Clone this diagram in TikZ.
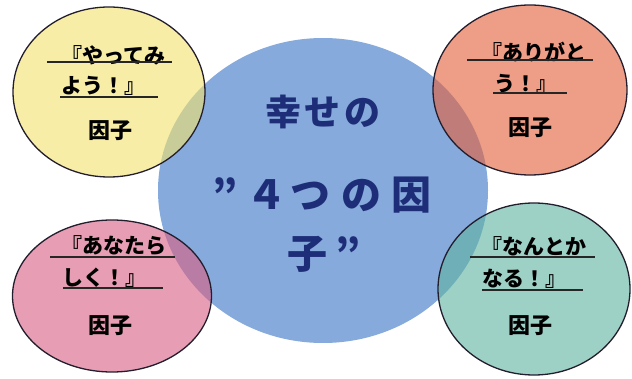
\documentclass[tikz,border=0pt]{standalone}
\usepackage{fontspec}
\newfontfamily\jp{Noto Sans CJK JP}
\usetikzlibrary{shapes.geometric}
\definecolor{cblue}{RGB}{134,170,220}
\definecolor{cyel}{RGB}{242,226,112}
\definecolor{corg}{RGB}{227,97,60}
\definecolor{cpnk}{RGB}{217,97,132}
\definecolor{ctea}{RGB}{97,180,163}
\definecolor{cnavy}{RGB}{30,45,120}
\definecolor{cedge}{RGB}{35,30,45}
\begin{document}
\begin{tikzpicture}[x=1pt,y=1pt,
  factor/.style={ellipse, draw=cedge, line width=1.3pt, fill opacity=0.62, draw opacity=1, inner sep=0pt},
  ftext/.style={font=\jp\bfseries\fontsize{21}{21}\selectfont, inner sep=0pt, anchor=west, text=black},
  fkey/.style={font=\jp\bfseries\fontsize{22}{22}\selectfont, inner sep=0pt, text=black},
  ctext/.style={font=\jp\bfseries\fontsize{36}{36}\selectfont, inner sep=0pt, text=cnavy},
  cbig/.style={font=\jp\bfseries\fontsize{40}{40}\selectfont, inner sep=0pt, text=cnavy},
  ul/.style={line width=1.3pt, draw=black!85}]
\useasboundingbox (0,0) rectangle (632,378);
% central circle
\node[ellipse, fill=cblue, minimum width=330pt, minimum height=305pt, inner sep=0pt] (core) at (323,187.5) {};
% factor circles
\node[factor, fill=cyel, minimum width=192pt, minimum height=170pt] (yel) at (109,286) {};
\node[factor, fill=corg, minimum width=194pt, minimum height=170pt] (org) at (530,288) {};
\node[factor, fill=cpnk, minimum width=199pt, minimum height=152pt] (pnk) at (112,82) {};
\node[factor, fill=ctea, minimum width=192pt, minimum height=172pt] (tea) at (534,89) {};
% central text
\node[ctext] (c1) at (323,266) {幸\hspace{4pt}せ\hspace{4pt}の};
\node[cbig] (c2) at (322,183) {”\hspace{9pt}４\hspace{4pt}つ\hspace{11pt}の\hspace{10pt}因};
\node[cbig] (c3) at (324,124) {子\hspace{8pt}”};
% yellow
\node[ftext] (y1) at (61,323) {『やってみ};
\node[ftext] (y2) at (61,292) {よう！』};
\node[fkey] (y3) at (110,247) {因子};
\draw[ul] (47,316) -- (172,316);
\draw[ul] (60,281) -- (158,281);
% orange
\node[ftext] (o1) at (481,325.5) {『ありがと};
\node[ftext] (o2) at (494,294.5) {う！』};
\node[fkey] (o3) at (530.5,250) {因子};
\draw[ul] (467,318) -- (593,318);
\draw[ul] (493,285) -- (567,285);
% pink
\node[ftext] (p1) at (61,132) {『あなたら};
\node[ftext] (p2) at (62,100.5) {しく！』};
\node[fkey] (p3) at (110,52) {因子};
\draw[ul] (50,121) -- (175,121);
\draw[ul] (63,90) -- (163,90);
% teal
\node[ftext] (t1) at (481,132) {『なんとか};
\node[ftext] (t2) at (482,99) {なる！』};
\node[fkey] (t3) at (530,52) {因子};
\draw[ul] (470,121) -- (595,121);
\draw[ul] (482,88) -- (583,88);
\end{tikzpicture}
\end{document}
